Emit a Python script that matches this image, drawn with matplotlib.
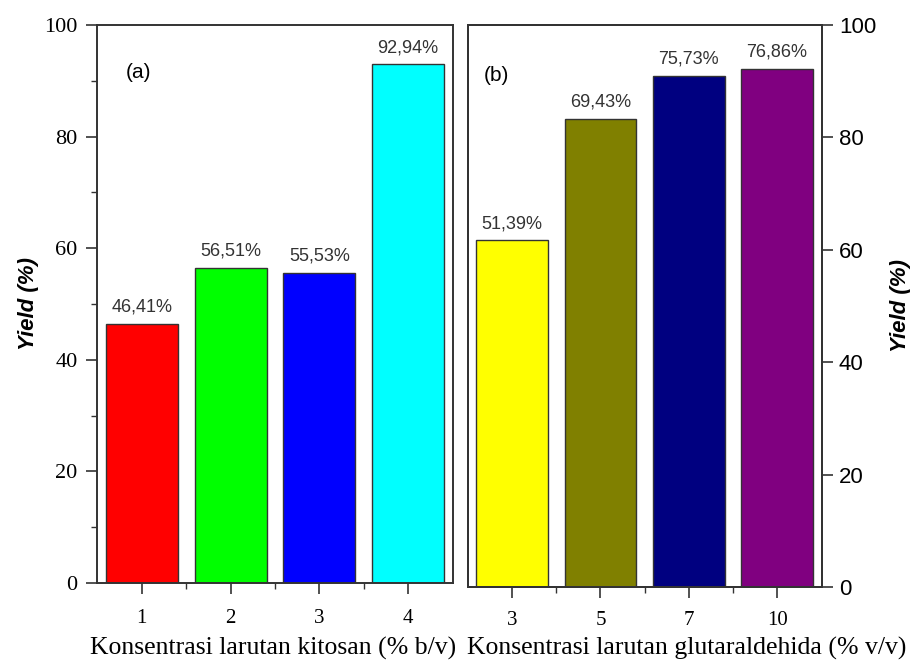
import matplotlib
matplotlib.use("Agg")
import matplotlib.pyplot as plt
from matplotlib.ticker import MultipleLocator, FixedLocator, NullLocator

# Panel (a): chitosan concentration
chitosan_labels = ["1", "2", "3", "4"]
chitosan_yield = [46.41, 56.51, 55.53, 92.94]
chitosan_colors = ["#ff0000", "#00ff00", "#0000ff", "#00ffff"]

# Panel (b): glutaraldehyde concentration
glut_labels = ["3", "5", "7", "10"]
glut_yield = [51.39, 69.43, 75.73, 76.86]
glut_colors = ["#ffff00", "#808000", "#000080", "#800080"]

# scale between the plotted glutaraldehyde bars and the printed right axis
glut_axis_scale = 1.2

serif = "Liberation Serif"
sans = "Liberation Sans"
edge = "#333333"

fig = plt.figure(figsize=(9.15, 6.63), dpi=100)
ax1 = fig.add_axes([0.106, 0.1207, 0.389, 0.8416])
ax2 = fig.add_axes([0.5115, 0.1146, 0.387, 0.8477])

def fmt(v):
    return f"{v:.2f}".replace(".", ",") + "%"

# ---- panel (a)
x1 = list(range(len(chitosan_yield)))
bars1 = ax1.bar(x1, chitosan_yield, width=0.81, color=chitosan_colors,
                edgecolor=edge, linewidth=1.0)
for b, v in zip(bars1, chitosan_yield):
    ax1.annotate(fmt(v), (b.get_x() + b.get_width() / 2, v),
                 xytext=(0, 6), textcoords="offset points",
                 ha="center", va="bottom", fontsize=13, family=sans,
                 color="#333333")
ax1.set_xlim(-0.505, 3.505)
ax1.set_ylim(0, 100)
ax1.set_xticks(x1)
ax1.set_xticklabels(chitosan_labels, family=serif, fontsize=15)
ax1.xaxis.set_minor_locator(FixedLocator([0.5, 1.5, 2.5]))
ax1.yaxis.set_major_locator(MultipleLocator(20))
ax1.yaxis.set_minor_locator(MultipleLocator(10))
for lab in ax1.get_yticklabels():
    lab.set_family(serif)
    lab.set_fontsize(16)
ax1.tick_params(axis="both", which="major", direction="out", length=8,
                width=1.2, color="#333333")
ax1.tick_params(axis="both", which="minor", direction="out", length=4,
                width=1.0, color="#333333")
ax1.tick_params(axis="y", pad=6)
ax1.tick_params(axis="x", pad=11)
ax1.set_ylabel("Yield (%)", family=sans, fontsize=16, fontweight="bold",
               style="italic", labelpad=4)
ax1.text(0.08, 0.915, "(a)", transform=ax1.transAxes, fontsize=15,
         family=sans, va="center", ha="left")

# ---- panel (b)
x2 = list(range(len(glut_yield)))
bars2 = ax2.bar(x2, glut_yield, width=0.81, color=glut_colors,
                edgecolor=edge, linewidth=1.0)
for b, v in zip(bars2, glut_yield):
    ax2.annotate(fmt(v), (b.get_x() + b.get_width() / 2, v),
                 xytext=(0, 6), textcoords="offset points",
                 ha="center", va="bottom", fontsize=13, family=sans,
                 color="#333333")
ax2.set_xlim(-0.5, 3.51)
ax2.set_ylim(0, 100 / glut_axis_scale)
ax2.set_xticks(x2)
ax2.set_xticklabels(glut_labels, family=serif, fontsize=15)
ax2.xaxis.set_minor_locator(FixedLocator([0.5, 1.5, 2.5]))
ax2.tick_params(axis="x", which="major", direction="out", length=8,
                width=1.2, color="#333333", pad=9)
ax2.tick_params(axis="x", which="minor", direction="out", length=4,
                width=1.0, color="#333333")
ax2.text(0.045, 0.91, "(b)", transform=ax2.transAxes, fontsize=15,
         family=sans, va="center", ha="left")

# printed right-hand axis for panel (b)
axr = ax2.twinx()
axr.set_ylim(0, 100)
axr.yaxis.set_major_locator(MultipleLocator(20))
axr.yaxis.set_minor_locator(NullLocator())
axr.tick_params(axis="y", direction="out", length=8, width=1.2,
                color="#333333", pad=4, labelsize=16)
for lab in axr.get_yticklabels():
    lab.set_family(sans)
axr.set_ylabel("Yield (%)", family=sans, fontsize=16, fontweight="bold",
               style="italic", labelpad=10)

# the bar axis keeps no y ticks of its own
ax2.yaxis.set_major_locator(NullLocator())
ax2.yaxis.set_minor_locator(NullLocator())
ax2.tick_params(axis="y", which="both", left=False, labelleft=False,
                right=False, labelright=False)

for ax in (ax1, ax2, axr):
    for s in ax.spines.values():
        s.set_linewidth(1.4)
        s.set_color("#333333")

fig.text(0.298, 0.022, "Konsentrasi larutan kitosan (% b/v)", family=serif,
         fontsize=18.5, ha="center", va="center")
fig.text(0.751, 0.022, "Konsentrasi larutan glutaraldehida (% v/v)",
         family=serif, fontsize=18.5, ha="center", va="center")

fig.savefig("out.png", dpi=100)
